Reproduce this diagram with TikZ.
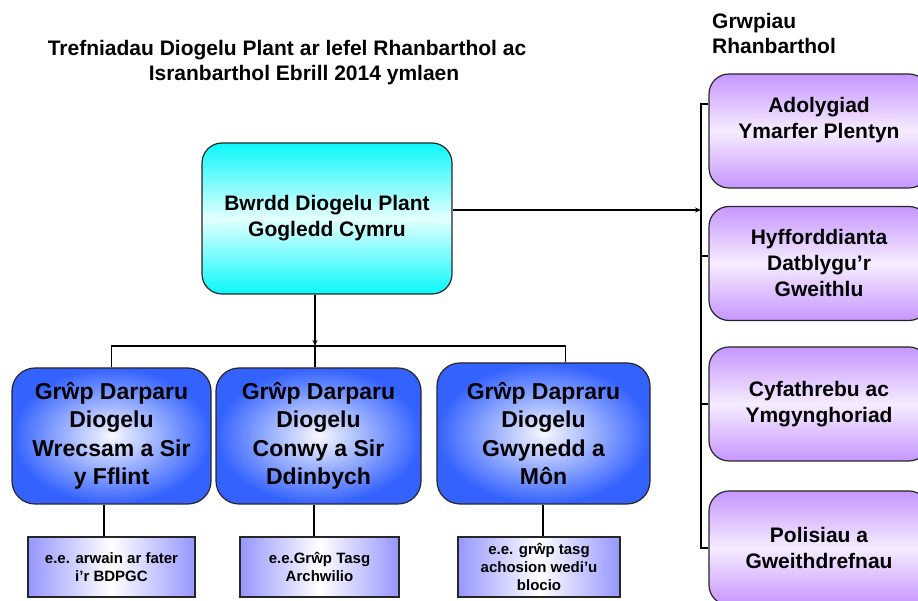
\documentclass[tikz,border=0pt]{standalone}
\usepackage{fontspec}
\setmainfont{Liberation Sans}
\usetikzlibrary{arrows.meta}
\definecolor{boardcyan}{RGB}{10,248,250}
\definecolor{boardlight}{RGB}{228,255,255}
\definecolor{grpblue}{RGB}{52,98,255}
\definecolor{grplight}{RGB}{248,248,255}
\definecolor{regpurple}{RGB}{198,150,255}
\definecolor{reglight}{RGB}{246,236,255}
\definecolor{egblue}{RGB}{150,150,255}
\tikzstyle{box}=[draw=black!85, line width=1.2pt, align=center, inner sep=2pt]
\tikzstyle{board}=[box, rounded corners=20pt, minimum width=250pt, minimum height=151pt,
  top color=boardcyan, bottom color=boardcyan, middle color=boardlight,
  font=\fontsize{21}{26}\selectfont\bfseries]
\tikzstyle{regional}=[box, rounded corners=20pt, minimum width=220pt, minimum height=114pt,
  top color=regpurple, bottom color=regpurple, middle color=reglight,
  font=\fontsize{21}{26}\selectfont\bfseries]
\tikzstyle{delivery}=[box, rounded corners=23pt, minimum height=136pt,
  inner color=grplight, outer color=grpblue,
  font=\fontsize{23}{28.5}\selectfont\bfseries]
\tikzstyle{example}=[box, minimum height=60pt,
  left color=egblue, right color=egblue, middle color=white,
  font=\fontsize{15}{18}\selectfont\bfseries]
\tikzstyle{heading}=[align=left, inner sep=0pt, font=\fontsize{21}{25}\selectfont\bfseries]
\tikzstyle{link}=[line width=1.2pt]
\tikzstyle{arrow}=[link, -{Stealth[length=6pt,width=5pt]}]

\begin{document}
\begin{tikzpicture}[x=1pt, y=1pt]
    \useasboundingbox (0,0) rectangle (918,601);
    \node[heading, align=center]          (title) at (287,538) {Trefniadau Diogelu Plant ar lefel Rhanbarthol ac\\\hspace*{34pt}Isranbarthol Ebrill 2014 ymlaen};
    \node[heading, anchor=north west]     (grwpiau) at (712,588) {Grwpiau\\Rhanbarthol};
    \node[board]                          (bwrdd) at (327,382.5) {Bwrdd Diogelu Plant\\Gogledd Cymru};
    \node[regional]                       (adolygiad) at (819,470) {Adolygiad\\Ymarfer Plentyn\\\mbox{}};
    \node[regional]                       (hyfforddiant) at (819,337.5) {Hyfforddianta\\Datblygu'r\\Gweithlu};
    \node[regional]                       (cyfathrebu) at (819,197) {Cyfathrebu ac\\Ymgynghoriad};
    \node[regional]                       (polisiau) at (819,53) {Polisiau a\\Gweithdrefnau};
    \node[delivery, minimum width=199pt]  (wrecsam) at (111.5,165) {Grŵp Darparu\\Diogelu\\Wrecsam a Sir\\y Fflint};
    \node[delivery, minimum width=205pt]  (conwy) at (318.5,165) {Grŵp Darparu\\Diogelu\\Conwy a Sir\\Ddinbych};
    \node[delivery, minimum width=213pt, minimum height=141pt] (gwynedd) at (543.5,167.5) {Grŵp Dapraru\\Diogelu\\Gwynedd a\\Môn};
    \node[example, minimum width=167pt]   (egwrecsam) at (111.5,34) {e.e. arwain ar fater\\i'r BDPGC};
    \node[example, minimum width=159pt]   (egconwy) at (319.5,34) {e.e.Grŵp Tasg\\Archwilio};
    \node[example, minimum width=162pt]   (eggwynedd) at (539,34) {e.e. grŵp tasg\\achosion wedi'u\\blocio};
    \coordinate (lbus) at (315,255);
    \coordinate (rbus) at (701,391);
    \draw[arrow] (bwrdd.south -| lbus) -- (lbus);
    \draw[link] (wrecsam.north) |- (lbus) -| ([xshift=22pt]gwynedd.north);
    \draw[link] (conwy.north -| lbus) -- (lbus);
    \draw[link] ([xshift=-7.5pt]egwrecsam.north) -- ([xshift=-7.5pt]egwrecsam.north |- wrecsam.south);
    \draw[link] ([xshift=-5.5pt]egconwy.north) -- ([xshift=-5.5pt]egconwy.north |- conwy.south);
    \draw[link] ([xshift=4pt]eggwynedd.north) -- ([xshift=4pt]eggwynedd.north |- gwynedd.south);
    \draw[arrow] (bwrdd.east |- rbus) -- (rbus);
    \draw[link] ([yshift=27pt]adolygiad.west) -| (polisiau.west -| rbus) -- (polisiau.west);
    \draw[link] ([yshift=7.5pt]hyfforddiant.west -| rbus) -- ([yshift=7.5pt]hyfforddiant.west);
    \draw[link] (cyfathrebu.west -| rbus) -- (cyfathrebu.west);
\end{tikzpicture}
\end{document}
